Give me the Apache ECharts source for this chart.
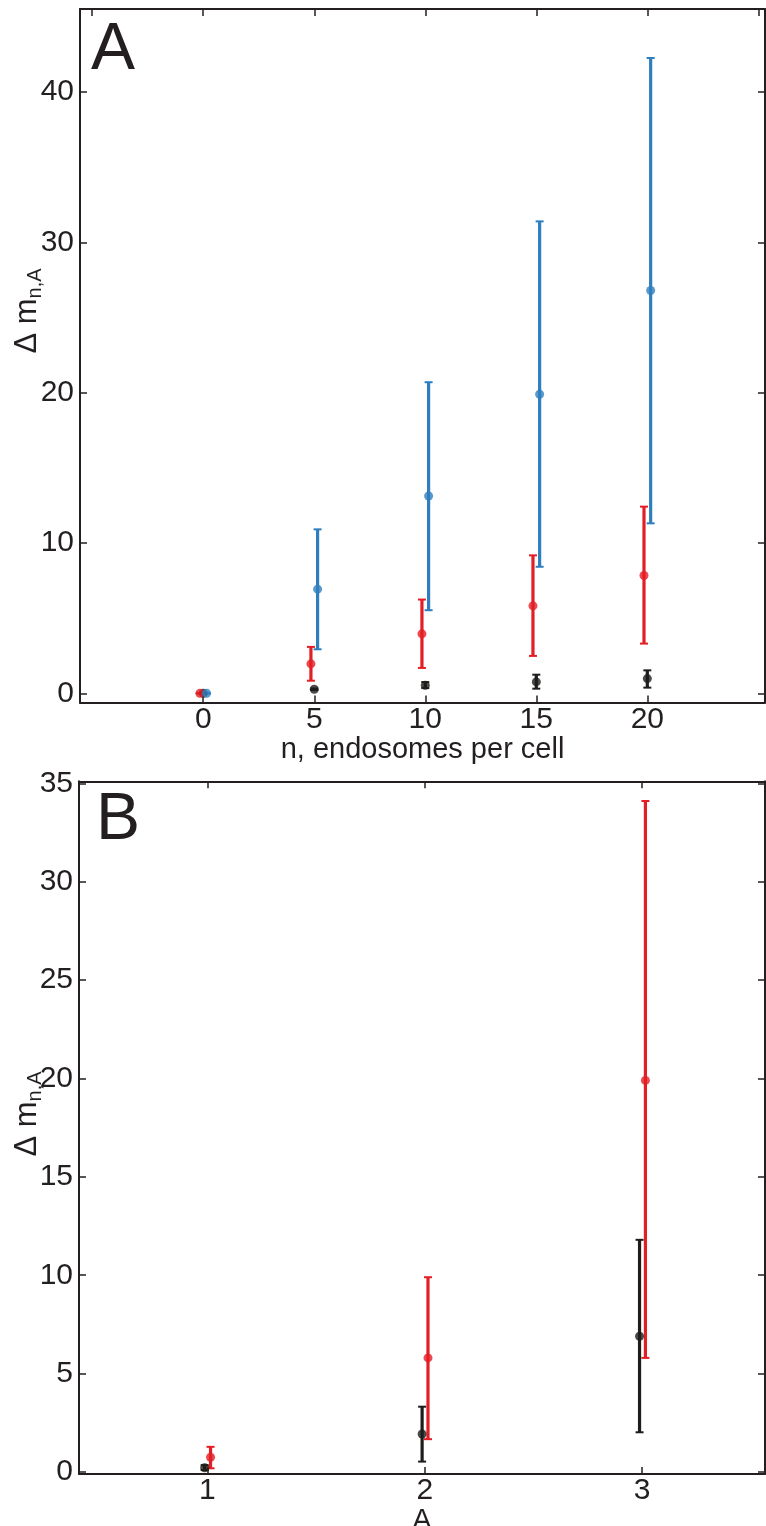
<!DOCTYPE html>
<html>
<head>
<meta charset="utf-8">
<script src="https://cdn.jsdelivr.net/npm/echarts@6/dist/echarts.min.js"></script>
<style>
html,body{margin:0;padding:0;background:#fff;}
#chart{width:766px;height:1526px;}
</style>
</head>
<body>
<div id="chart"></div>
<script>
// ---- Panel A data (n, endosomes per cell) ----
const nValues = [0, 5, 10, 15, 20];
const blackMeanA = [0, 0.27, 0.53, 0.76, 0.98];
const blackLowA  = [0, 0.22, 0.35, 0.31, 0.38];
const blackHighA = [0, 0.32, 0.75, 1.24, 1.53];
const redMeanA = [0, 1.96, 3.96, 5.82, 7.84];
const redLowA  = [0, 0.84, 1.69, 2.49, 3.31];
const redHighA = [0, 3.09, 6.24, 9.18, 12.42];
const blueMeanA = [0, 6.93, 13.13, 19.9, 26.8];
const blueLowA  = [0, 2.93, 5.53, 8.42, 11.31];
const blueHighA = [0, 10.91, 20.7, 31.4, 42.27];
const dodgeA = { black: 0, red: -0.15, blue: 0.15 };
const xTicksA = [0, 5, 10, 15, 20];
const xTopTicksA = [-5, 0, 5, 10, 15, 20, 25];
const yTicksA = [0, 10, 20, 30, 40];

// ---- Panel B data (A) ----
const aValues = [1, 2, 3];
const blackMeanB = [0.22, 1.93, 6.9];
const blackLowB  = [0.1, 0.53, 2.02];
const blackHighB = [0.35, 3.32, 11.8];
const redMeanB = [0.75, 5.8, 19.9];
const redLowB  = [0.19, 1.67, 5.8];
const redHighB = [1.28, 9.9, 34.1];
const dodgeB = { black: -0.012, red: 0.015 };
const xTicksB = [1, 2, 3];
const yTicksB = [0, 5, 10, 15, 20, 25, 30, 35];

const COL = { black: '#1d1d1b', red: '#e31e24', blue: '#2f7fbf' };
const AX = '#231f20';
const FONT = "'Liberation Sans', Arial, sans-serif";

function errData(xs, dx, lo, hi) { return xs.map((x, i) => [x + dx, lo[i], hi[i]]); }
function ptData(xs, dx, m) { return xs.map((x, i) => [x + dx, m[i]]); }

function errSeries(name, xi, yi, data, color) {
  return {
    type: 'custom', name: name, xAxisIndex: xi, yAxisIndex: yi, data: data, clip: false,
    renderItem: function (params, api) {
      const x = api.value(0), lo = api.value(1), hi = api.value(2);
      const p1 = api.coord([x, lo]), p2 = api.coord([x, hi]);
      const w = 4;
      const st = { stroke: color, lineWidth: 3.2 };
      const cs = { stroke: color, lineWidth: 2 };
      return { type: 'group', children: [
        { type: 'line', shape: { x1: p1[0], y1: p1[1], x2: p2[0], y2: p2[1] }, style: st },
        { type: 'line', shape: { x1: p1[0] - w, y1: p1[1], x2: p1[0] + w, y2: p1[1] }, style: cs },
        { type: 'line', shape: { x1: p2[0] - w, y1: p2[1], x2: p2[0] + w, y2: p2[1] }, style: cs }
      ]};
    }
  };
}
function ptSeries(name, xi, yi, data, color) {
  return { type: 'scatter', name: name, xAxisIndex: xi, yAxisIndex: yi, data: data,
    symbol: 'circle', symbolSize: 9, itemStyle: { color: color }, clip: false };
}

function xAxisCfg(grid, min, max, ticks, labels, pos, name, gap) {
  return {
    gridIndex: grid, type: 'value', min: min, max: max, position: pos,
    axisLine: { show: true, onZero: false, lineStyle: { color: AX, width: 2 } },
    axisTick: { show: true, inside: true, length: 7, customValues: ticks, lineStyle: { color: AX, width: 1.5 } },
    axisLabel: { show: labels, customValues: ticks, fontSize: 30, color: AX, fontFamily: FONT, margin: 2 },
    splitLine: { show: false },
    name: name || '', nameLocation: 'middle', nameGap: gap || 30,
    nameTextStyle: { fontSize: 29, color: AX, fontFamily: FONT }
  };
}
function yAxisCfg(grid, min, max, ticks, labels, pos) {
  return {
    gridIndex: grid, type: 'value', min: min, max: max, position: pos,
    axisLine: { show: true, onZero: false, lineStyle: { color: AX, width: 2 } },
    axisTick: { show: true, inside: true, length: 7, customValues: ticks, lineStyle: { color: AX, width: 1.5 } },
    axisLabel: { show: labels, customValues: ticks, fontSize: 30, color: AX, fontFamily: FONT, margin: 6 },
    splitLine: { show: false }
  };
}

const chart = echarts.init(document.getElementById('chart'), null, { renderer: 'canvas' });
const option = {
  backgroundColor: '#ffffff',
  animation: false,
  grid: [
    { left: 80, top: 9, width: 685, height: 693.5, containLabel: false, outerBoundsMode: 'none' },
    { left: 79, top: 781.3, width: 686, height: 692.7, containLabel: false, outerBoundsMode: 'none' }
  ],
  xAxis: [
    xAxisCfg(0, -5.55, 25.3, xTicksA, true, 'bottom', 'n, endosomes per cell', 28),
    xAxisCfg(0, -5.55, 25.3, xTopTicksA, false, 'top'),
    xAxisCfg(1, 0.41, 3.565, xTicksB, true, 'bottom', 'A', 24),
    xAxisCfg(1, 0.41, 3.565, xTicksB, false, 'top')
  ],
  yAxis: [
    yAxisCfg(0, -0.61, 45.53, yTicksA, true, 'left'),
    yAxisCfg(0, -0.61, 45.53, yTicksA, false, 'right'),
    yAxisCfg(1, -0.1, 35.1, yTicksB, true, 'left'),
    yAxisCfg(1, -0.1, 35.1, yTicksB, false, 'right')
  ],
  graphic: [
    { type: 'text', x: 91, y: 51, style: { text: 'A', fontSize: 66, fill: AX, fontFamily: FONT, verticalAlign: 'middle' } },
    { type: 'text', x: 96, y: 821, style: { text: 'B', fontSize: 66, fill: AX, fontFamily: FONT, verticalAlign: 'middle' } },
    { type: 'text', x: 27, y: 311, rotation: Math.PI / 2, style: {
        text: '{a|Δ m}{b|n,A}', align: 'center', verticalAlign: 'middle', fill: AX,
        rich: { a: { fontSize: 31, fontFamily: FONT, fill: AX, lineHeight: 36, verticalAlign: 'middle' },
                b: { fontSize: 20, fontFamily: FONT, fill: AX, lineHeight: 36, verticalAlign: 'bottom' } } } },
    { type: 'text', x: 27, y: 1114, rotation: Math.PI / 2, style: {
        text: '{a|Δ m}{b|n,A}', align: 'center', verticalAlign: 'middle', fill: AX,
        rich: { a: { fontSize: 31, fontFamily: FONT, fill: AX, lineHeight: 36, verticalAlign: 'middle' },
                b: { fontSize: 20, fontFamily: FONT, fill: AX, lineHeight: 36, verticalAlign: 'bottom' } } } }
  ],
  series: [
    errSeries('blackErrA', 0, 0, errData(nValues, dodgeA.black, blackLowA, blackHighA), COL.black),
    ptSeries('blackA', 0, 0, ptData(nValues, dodgeA.black, blackMeanA), COL.black),
    errSeries('redErrA', 0, 0, errData(nValues, dodgeA.red, redLowA, redHighA), COL.red),
    ptSeries('redA', 0, 0, ptData(nValues, dodgeA.red, redMeanA), COL.red),
    errSeries('blueErrA', 0, 0, errData(nValues, dodgeA.blue, blueLowA, blueHighA), COL.blue),
    ptSeries('blueA', 0, 0, ptData(nValues, dodgeA.blue, blueMeanA), COL.blue),
    errSeries('redErrB', 2, 2, errData(aValues, dodgeB.red, redLowB, redHighB), COL.red),
    ptSeries('redB', 2, 2, ptData(aValues, dodgeB.red, redMeanB), COL.red),
    errSeries('blackErrB', 2, 2, errData(aValues, dodgeB.black, blackLowB, blackHighB), COL.black),
    ptSeries('blackB', 2, 2, ptData(aValues, dodgeB.black, blackMeanB), COL.black)
  ]
};
chart.setOption(option);
</script>
</body>
</html>
